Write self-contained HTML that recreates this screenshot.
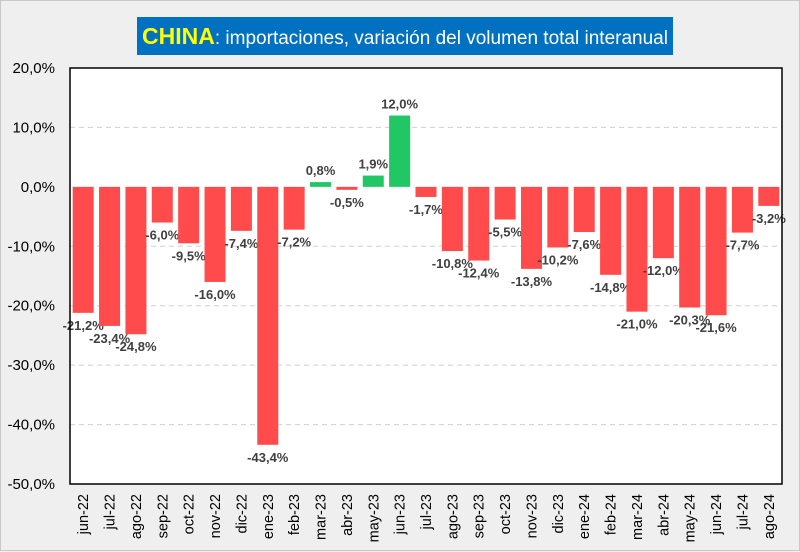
<!DOCTYPE html>
<html><head><meta charset="utf-8"><style>
body{margin:0;background:#efefef;}
#wrap{position:relative;width:798px;height:549px;border:1px solid #c8c8c8;background:#efefef;font-family:"Liberation Sans",sans-serif;}
#title{position:absolute;left:136px;top:16px;width:536px;height:38px;background:#0070c0;color:#fff;font-size:19px;line-height:38px;text-align:center;white-space:nowrap;}
#title b{color:#ffff00;font-size:23px;}
svg{position:absolute;left:0;top:0;}
</style></head><body>
<div id="wrap">
<div id="title"><b>CHINA</b>: importaciones, variación del volumen total interanual</div>
<svg id="chart" width="800" height="551"></svg>
</div>
<script>
const categories=["jun-22","jul-22","ago-22","sep-22","oct-22","nov-22","dic-22","ene-23","feb-23","mar-23","abr-23","may-23","jun-23","jul-23","ago-23","sep-23","oct-23","nov-23","dic-23","ene-24","feb-24","mar-24","abr-24","may-24","jun-24","jul-24","ago-24"];
const values=[-21.2,-23.4,-24.8,-6.0,-9.5,-16.0,-7.4,-43.4,-7.2,0.8,-0.5,1.9,12.0,-1.7,-10.8,-12.4,-5.5,-13.8,-10.2,-7.6,-14.8,-21.0,-12.0,-20.3,-21.6,-7.7,-3.2];
const yTicks=[20,10,0,-10,-20,-30,-40,-50];
const NS="http://www.w3.org/2000/svg";
const svg=document.getElementById('chart');
const L=69,R=781,T=67,B=483,ymax=20,ymin=-50;
const y=v=>T+(ymax-v)/(ymax-ymin)*(B-T);
const slot=(R-L)/categories.length;
const x=i=>L+slot*i;
const fmt=v=>v.toFixed(1).replace('.',',')+'%';
function mk(t,a){const e=document.createElementNS(NS,t);for(const k in a)e.setAttribute(k,a[k]);svg.appendChild(e);return e;}
let bg=mk('rect',{x:L,y:T,width:R-L,height:B-T,fill:'#fff'});


yTicks.forEach(t=>{
 if(t<ymax&&t>ymin&&t!==0){const g=mk('line',{x1:L,x2:R,y1:y(t),y2:y(t),stroke:'#d0d0d0','stroke-dasharray':'5,4'});
 
 }
 const tx=mk('text',{x:L-15,y:y(t)+5,'text-anchor':'end','font-size':'15',fill:'#000'});
 tx.textContent=fmt(t);
 
 
});
values.forEach((v,i)=>{
 const bw=21,bx=x(i)+(slot-bw)/2;
 const y0=y(0),y1=y(v);
 const r=mk('rect',{x:bx,y:Math.min(y0,y1),width:bw,height:Math.max(1,Math.abs(y1-y0)),fill:v>=0?'#21c764':'#ff4b4b'});
 
 
 const cx=x(i)+slot/2;
 const lt=mk('text',{x:cx,y:v>=0?y1-7:y1+17,'text-anchor':'middle','font-size':'13','font-weight':'bold',fill:'#404040'});
 lt.textContent=fmt(v);
 
 
 const ct=mk('text',{x:0,y:0,'text-anchor':'end','font-size':'14.5',fill:'#000',transform:`translate(${cx+5},${B+10}) rotate(-90)`});
 ct.textContent=categories[i];
 
 
});
const fr=mk('rect',{x:L,y:T,width:R-L,height:B-T,fill:'none',stroke:'#000','stroke-width':'1.5'});


</script>
</body></html>
